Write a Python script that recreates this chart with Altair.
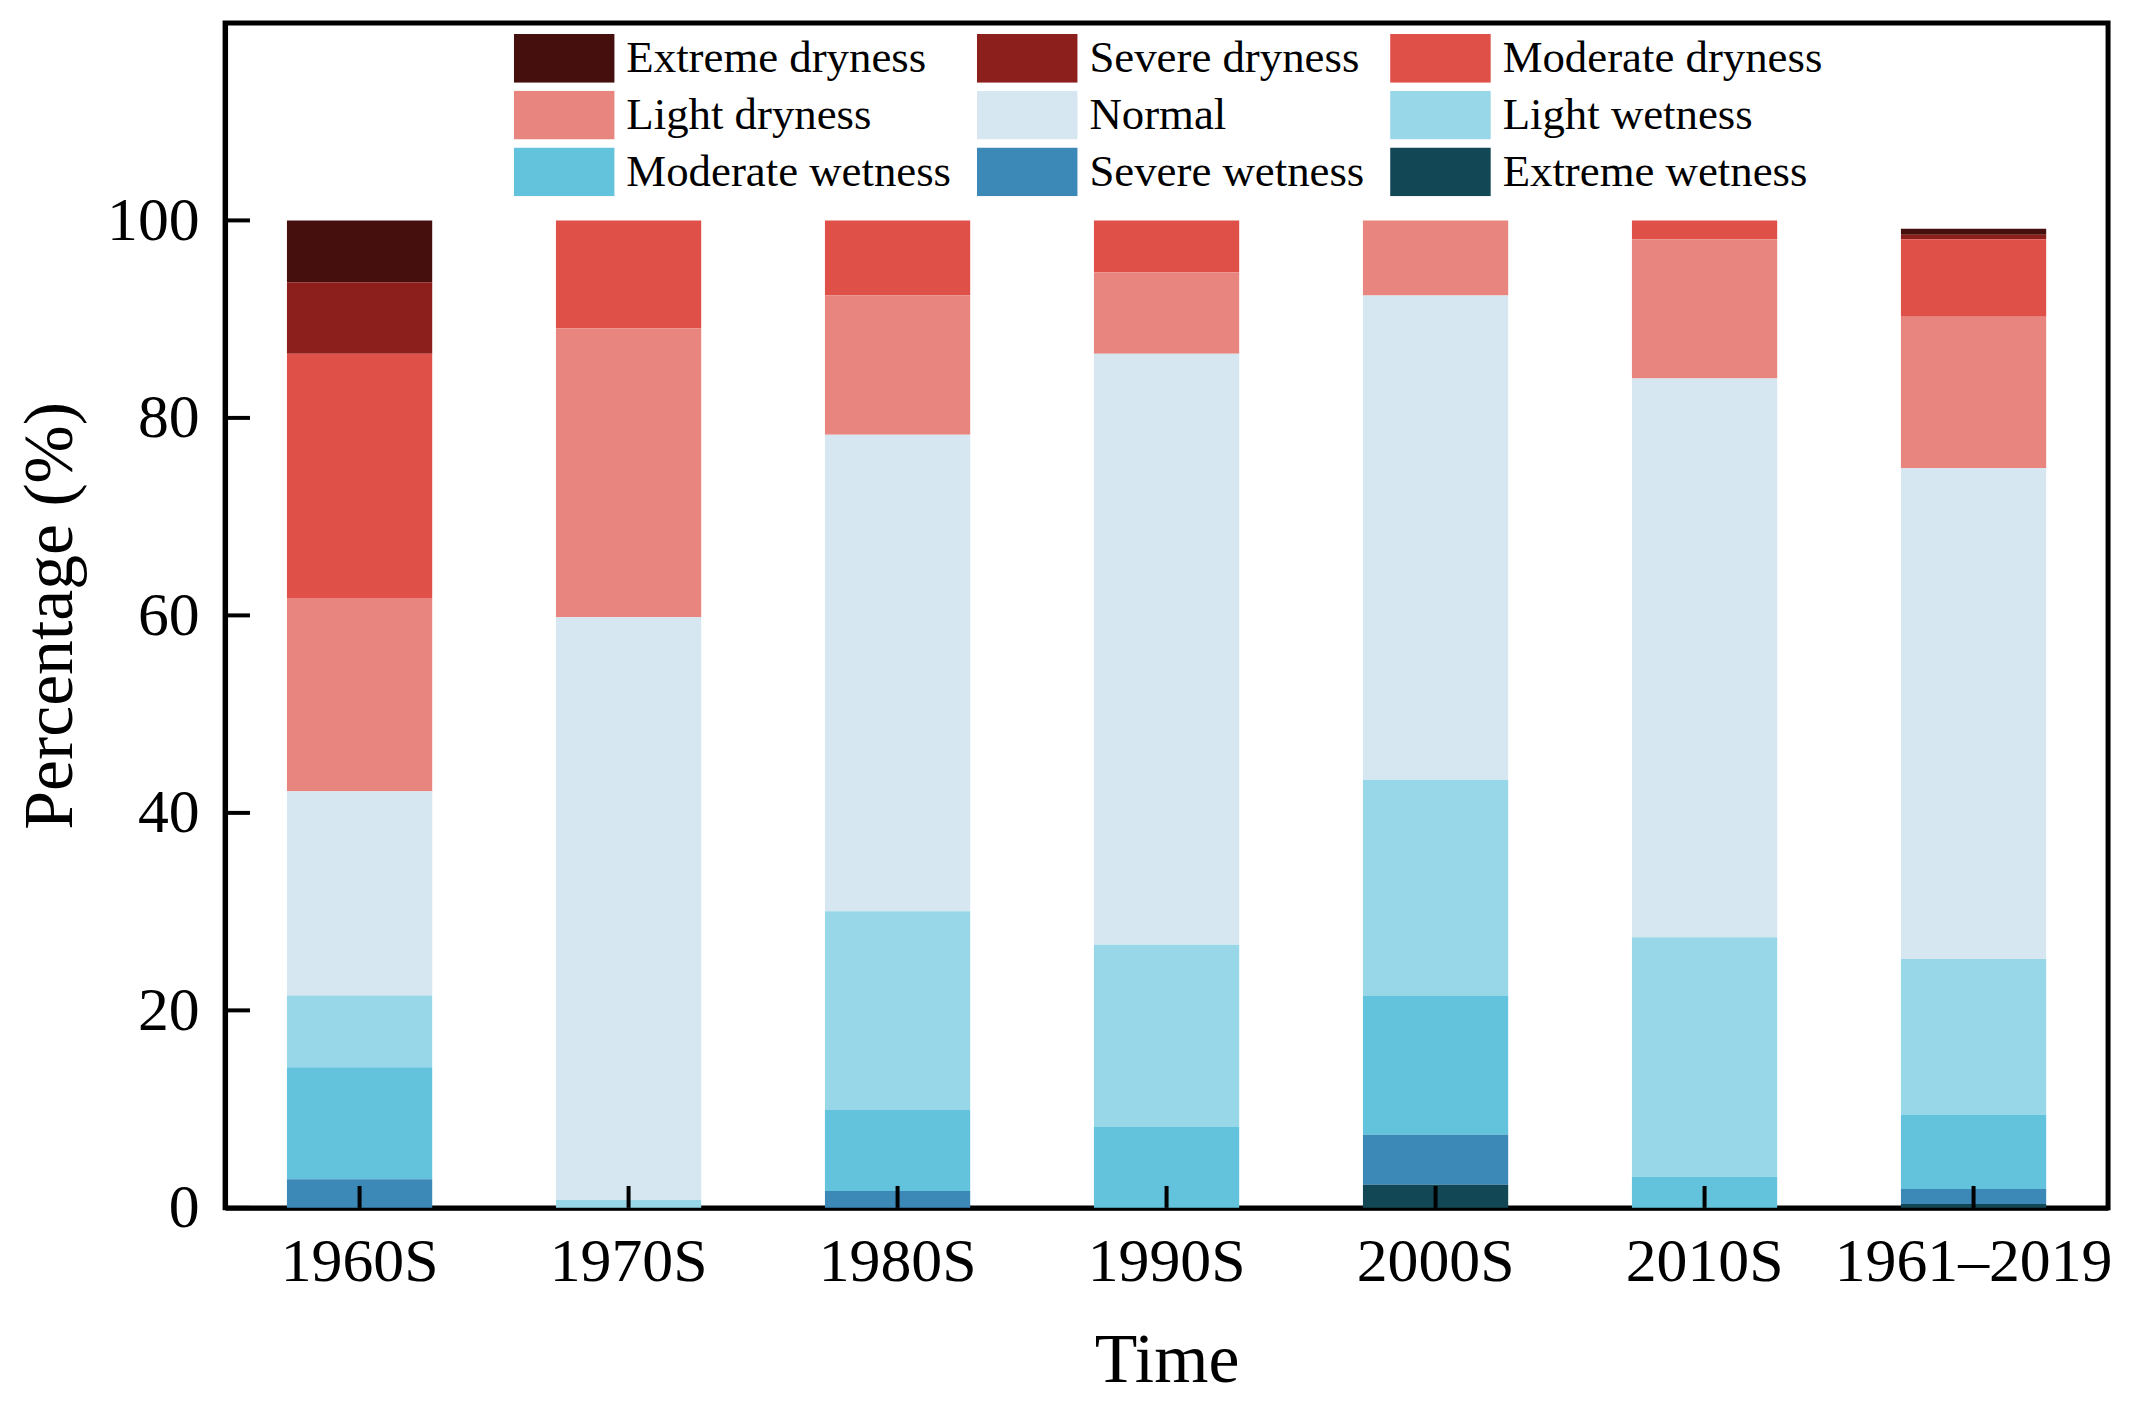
import altair as alt
import pandas as pd

periods = ["1960S", "1970S", "1980S", "1990S", "2000S", "2010S", "1961–2019"]
classes = ["Extreme dryness", "Severe dryness", "Moderate dryness",
           "Light dryness", "Normal", "Light wetness",
           "Moderate wetness", "Severe wetness", "Extreme wetness"]
colors = ["#450f0d", "#8c1f1b", "#df5048", "#e8857f", "#d6e7f2",
          "#98d7e8", "#63c3dc", "#3c89b8", "#124855"]

extreme_dryness = [6.25, 0, 0, 0, 0, 0, 0.6]
severe_dryness = [7.25, 0, 0, 0, 0, 0, 0.45]
moderate_dryness = [24.75, 10.95, 7.6, 5.25, 0, 1.9, 7.85]
light_dryness = [19.55, 29.25, 14.1, 8.25, 7.6, 14.1, 15.35]
normal = [20.7, 59.0, 48.25, 59.85, 49.05, 56.6, 49.7]
light_wetness = [7.25, 0.8, 20.15, 18.4, 21.85, 24.25, 15.8]
moderate_wetness = [11.35, 0, 8.2, 8.25, 14.1, 3.15, 7.5]
severe_wetness = [2.9, 0, 1.7, 0, 5.05, 0, 1.5]
extreme_wetness = [0, 0, 0, 0, 2.35, 0, 0.4]

y_ticks = [0, 20, 40, 60, 80, 100]

series = [extreme_dryness, severe_dryness, moderate_dryness, light_dryness,
          normal, light_wetness, moderate_wetness, severe_wetness,
          extreme_wetness]

rows = []
for ci, (cls, vals) in enumerate(zip(classes, series)):
    for p, v in zip(periods, vals):
        rows.append({"Time": p, "Class": cls, "Value": v,
                     "rank": len(classes) - 1 - ci})
df = pd.DataFrame(rows)

W, H = 1891, 1190
FONT = "Liberation Serif"

x_scale = alt.Scale(domain=periods, paddingInner=0.46, paddingOuter=0.23)
y_scale = alt.Scale(domain=[0, 120])

rect_path = "M-1,-0.485L1,-0.485L1,0.485L-1,0.485Z"

bars = alt.Chart(df).mark_bar(strokeWidth=0).encode(
    x=alt.X("Time:N", scale=x_scale, sort=periods,
            axis=alt.Axis(title="Time", labelAngle=0, labelPadding=24,
                          titlePadding=34, tickSize=0, labelLimit=500)),
    y=alt.Y("Value:Q", scale=y_scale, stack="zero",
            axis=alt.Axis(title="Percentage (%)", values=y_ticks,
                          labelPadding=26, titlePadding=20, tickSize=0,
                          grid=False)),
    color=alt.Color("Class:N",
                    scale=alt.Scale(domain=classes, range=colors),
                    legend=alt.Legend(title=None, orient="none",
                                      direction="horizontal",
                                      legendX=290, legendY=11, columns=3,
                                      symbolType=rect_path, symbolSize=10201,
                                      symbolStrokeWidth=0, labelOffset=12,
                                      clipHeight=49,
                                      columnPadding=25, rowPadding=8,
                                      padding=0, labelFontSize=45,
                                      labelLimit=700, labelFont=FONT,
                                      labelColor="black",
                                      symbolOpacity=1)),
    order=alt.Order("rank:Q", sort="ascending"),
)

ytick_df = pd.DataFrame({"tick": y_ticks})
yticks = alt.Chart(ytick_df).mark_rule(color="black", strokeWidth=4).encode(
    y=alt.Y("tick:Q", scale=y_scale),
    x=alt.value(0),
    x2=alt.value(25),
)

xtick_df = pd.DataFrame({"Time": periods})
xticks = alt.Chart(xtick_df).mark_rule(color="black", strokeWidth=4).encode(
    x=alt.X("Time:N", scale=x_scale, sort=periods),
    y=alt.value(H),
    y2=alt.value(H - 22),
)

chart = alt.layer(bars, yticks, xticks).properties(
    width=W, height=H,
    padding={"left": 8, "top": 12, "right": 10, "bottom": 10},
    background="white",
).configure_view(
    stroke="black", strokeWidth=5
).configure_axis(
    labelFont=FONT, titleFont=FONT, labelFontSize=62, titleFontSize=70,
    labelColor="black", titleColor="black", titleFontWeight="normal",
    domainColor="black", domainWidth=5, grid=False,
)

chart.save("out.html", embed_options={"renderer": "svg", "actions": False})
